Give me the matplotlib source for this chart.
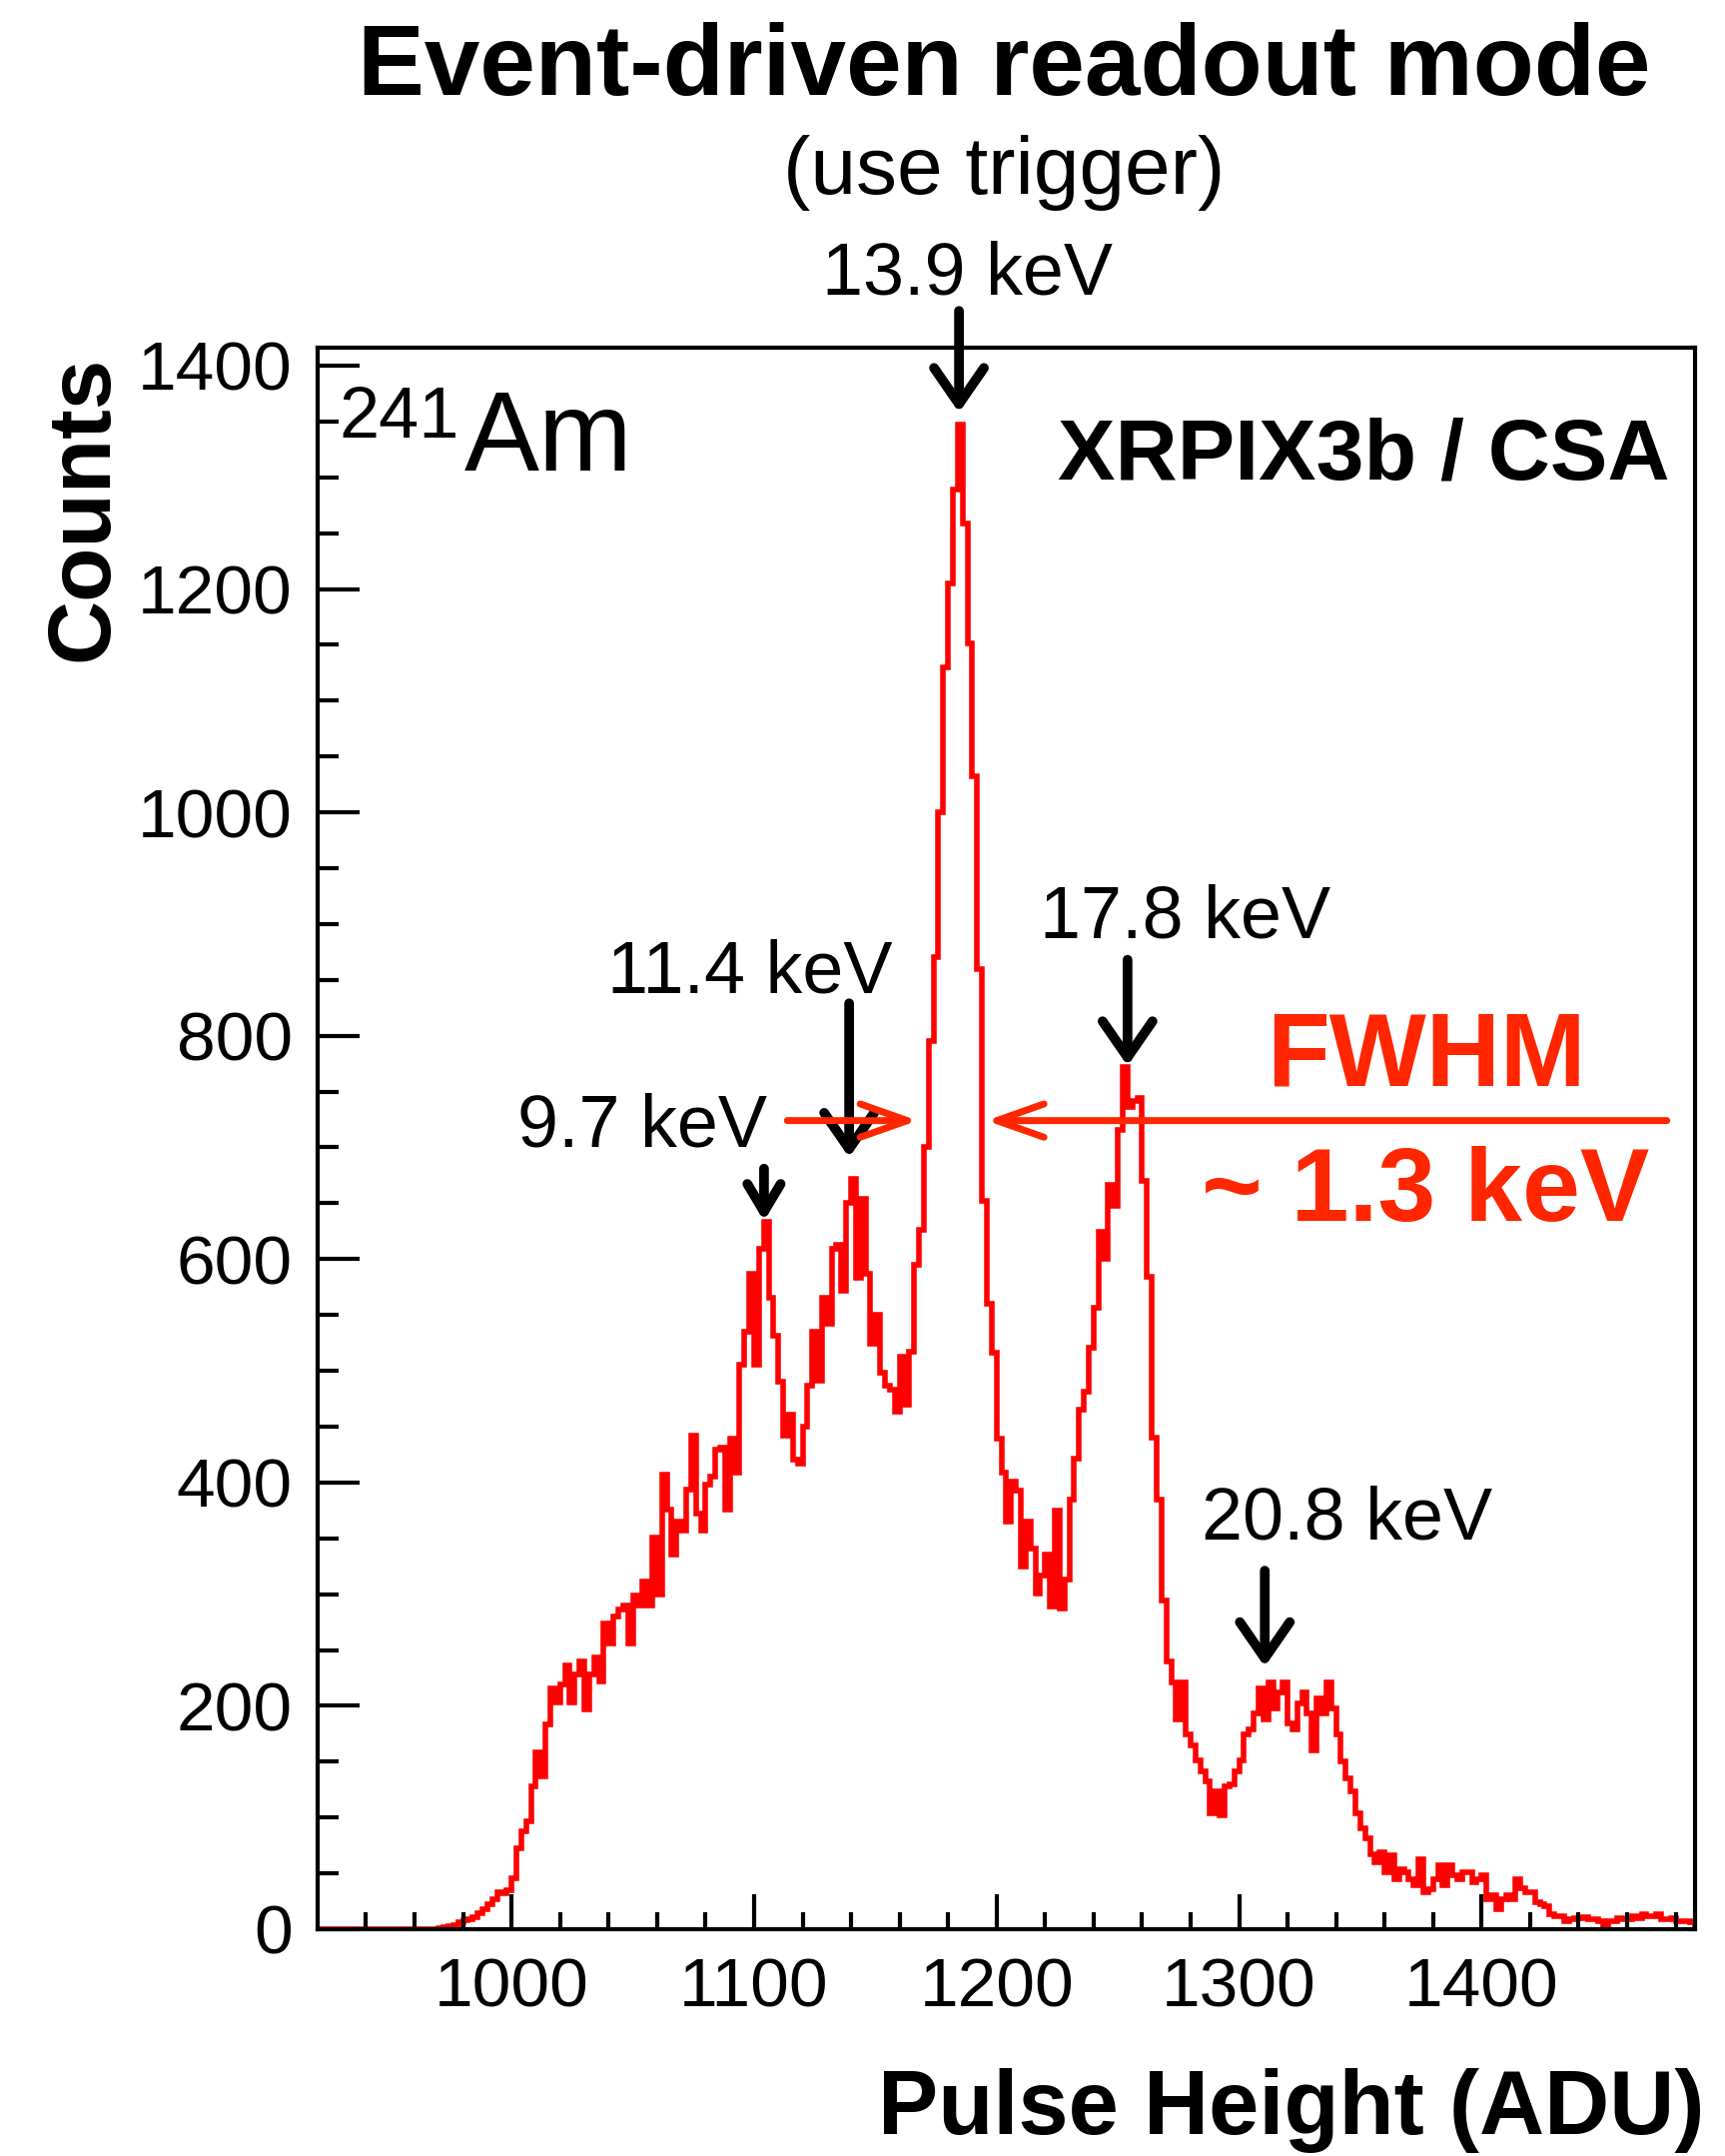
import numpy as np
import matplotlib
matplotlib.use("Agg")
import matplotlib.pyplot as plt

plt.rcParams['font.family'] = ['Liberation Sans', 'DejaVu Sans']

# histogram: 2-ADU bins from 920 to 1488
bin_lo = 920
bin_width = 2
counts = [
    0, 0, 0, 0, 0, 0, 0, 0, 0, 0,                          # 920-938
    0, 0, 0, 0, 0, 0, 0, 0, 0, 0,                          # 940-958
    0, 0, 0, 0, 0, 1, 2, 3, 4, 6,                          # 960-978
    8, 9, 11, 14, 18, 22, 27, 33, 32, 35,                  # 980-998
    46, 72, 88, 97, 128, 158, 137, 183, 216, 203,          # 1000-1018
    219, 236, 203, 228, 240, 197, 228, 243, 222, 274,      # 1020-1038
    256, 280, 286, 290, 256, 299, 290, 311, 290, 351,      # 1040-1058
    300, 407, 376, 335, 365, 357, 394, 442, 372, 357,      # 1060-1078
    398, 405, 429, 431, 376, 439, 409, 505, 535, 587,      # 1080-1098
    505, 609, 633, 565, 531, 490, 442, 461, 420, 417,      # 1100-1118
    450, 487, 535, 491, 565, 542, 609, 613, 572, 650,      # 1120-1138
    672, 583, 654, 587, 524, 550, 498, 487, 483, 463,      # 1140-1158
    513, 470, 517, 595, 626, 700, 795, 870, 1000, 1130,    # 1160-1178
    1205, 1289, 1347, 1259, 1151, 1032, 860, 652, 560, 516,  # 1180-1198
    439, 409, 365, 401, 393, 325, 365, 341, 301, 317,      # 1200-1218
    335, 289, 375, 287, 313, 385, 421, 465, 481, 521,      # 1220-1238
    556, 624, 600, 666, 648, 716, 772, 736, 742, 744,      # 1240-1258
    670, 584, 440, 385, 294, 240, 221, 188, 221, 174,      # 1260-1278
    165, 151, 141, 132, 104, 123, 102, 128, 130, 141,      # 1280-1298
    151, 174, 179, 193, 216, 188, 221, 198, 212, 221,      # 1300-1318
    184, 179, 202, 212, 193, 160, 207, 193, 221, 198,      # 1320-1338
    174, 150, 135, 123, 104, 90, 81, 67, 60, 69,           # 1340-1358
    51, 66, 45, 54, 51, 45, 39, 63, 33, 36,                # 1360-1378
    45, 57, 39, 57, 48, 45, 51, 51, 42, 45,                # 1380-1398
    48, 27, 30, 18, 27, 30, 27, 45, 37, 33,                # 1400-1418
    33, 24, 22, 21, 13, 12, 12, 7, 9, 10,                  # 1420-1438
    10, 11, 9, 9, 7, 4, 7, 7, 10, 9,                       # 1440-1458
    9, 12, 10, 13, 12, 12, 13, 9, 9, 10,                   # 1460-1478
    7, 7, 7, 6,                                            # 1480-1486
]
edges = bin_lo + bin_width * np.arange(len(counts) + 1)

# peak annotations: label, arrow x (ADU), arrow top, arrow tip, label x, label y
peak_labels = ['13.9 keV', '11.4 keV', '9.7 keV', '17.8 keV', '20.8 keV']
peak_x = [1184.5, 1139.2, 1104.1, 1254.0, 1310.6]
arrow_top = [1449, 829, 681, 868, 321]
arrow_tip = [1358, 691, 634, 773, 235]
label_x = [1187.8, 1098.4, 1053.7, 1277.8, 1344.6]
label_y = [1481, 856, 718, 905, 367]

fwhm_y = 724
fwhm_left = [1113.7, 1167.5]
fwhm_right = [1476.4, 1195.8]

red = '#ff2600'

fig = plt.figure(figsize=(17.27, 21.58), dpi=100)
ax = fig.add_axes([0.1841, 0.1052, 0.7985, 0.7335])

ax.stairs(counts, edges, color='red', lw=4)

ax.set_xlim(920, 1488)
ax.set_ylim(0, 1416)

ax.set_xticks([1000, 1100, 1200, 1300, 1400])
ax.set_xticks(np.arange(940, 1488, 20), minor=True)
ax.set_yticks(np.arange(0, 1401, 200))
ax.set_yticks(np.arange(0, 1416, 50), minor=True)
ax.tick_params(which='both', direction='in', top=False, right=False, width=3)
ax.tick_params(axis='x', which='major', length=25, labelsize=50, pad=20)
ax.tick_params(axis='x', which='minor', length=12)
ax.tick_params(axis='y', which='major', length=30, labelsize=50, pad=18)
ax.tick_params(axis='y', which='minor', length=15)
for s in ax.spines.values():
    s.set_linewidth(3)

# arrows to peaks
for i in range(len(peak_labels)):
    small = peak_labels[i] == '9.7 keV'
    hs = 'head_length=2.0,head_width=1.2' if small else 'head_length=2.6,head_width=1.8'
    ax.annotate('', xy=(peak_x[i], arrow_tip[i]), xytext=(peak_x[i], arrow_top[i]),
                arrowprops=dict(arrowstyle='->,' + hs, lw=7, color='black',
                                shrinkA=0, shrinkB=0, mutation_scale=10,
                                joinstyle='round', capstyle='round'),
                annotation_clip=False)
    ax.text(label_x[i], label_y[i], peak_labels[i], fontsize=53, ha='center',
            va='center', clip_on=False)

# FWHM arrows
for xs in (fwhm_left, fwhm_right):
    ax.annotate('', xy=(xs[1], fwhm_y), xytext=(xs[0], fwhm_y),
                arrowprops=dict(arrowstyle='->,head_length=3.4,head_width=1.2', lw=5,
                                color=red, shrinkA=0, shrinkB=0, mutation_scale=10))

ax.text(1377, 755, 'FWHM', color=red, fontsize=74, fontweight='bold', ha='center',
        va='baseline')
ax.text(1377, 634, '~ 1.3 keV', color=red, fontsize=75, fontweight='bold', ha='center',
        va='baseline')

ax.text(0.0152, 0.9434, '241', transform=ax.transAxes, fontsize=52, va='baseline')
ax.text(0.1066, 0.9225, 'Am', transform=ax.transAxes, fontsize=81, va='baseline')
ax.text(0.9819, 0.9172, 'XRPIX3b / CSA', transform=ax.transAxes, fontsize=62,
        fontweight='bold', ha='right', va='baseline')

fig.text(0.582, 0.968, 'Event-driven readout mode', fontsize=72, fontweight='bold',
         ha='center', va='center')
fig.text(0.582, 0.920, '(use trigger)', fontsize=59, ha='center', va='center')
fig.text(0.049, 0.764, 'Counts', fontsize=64, fontweight='bold', rotation=90,
         ha='center', va='center')
fig.text(0.988, 0.0213, 'Pulse Height (ADU)', fontsize=65, fontweight='bold',
         ha='right', va='center')

fig.savefig('out.png', dpi=100)
